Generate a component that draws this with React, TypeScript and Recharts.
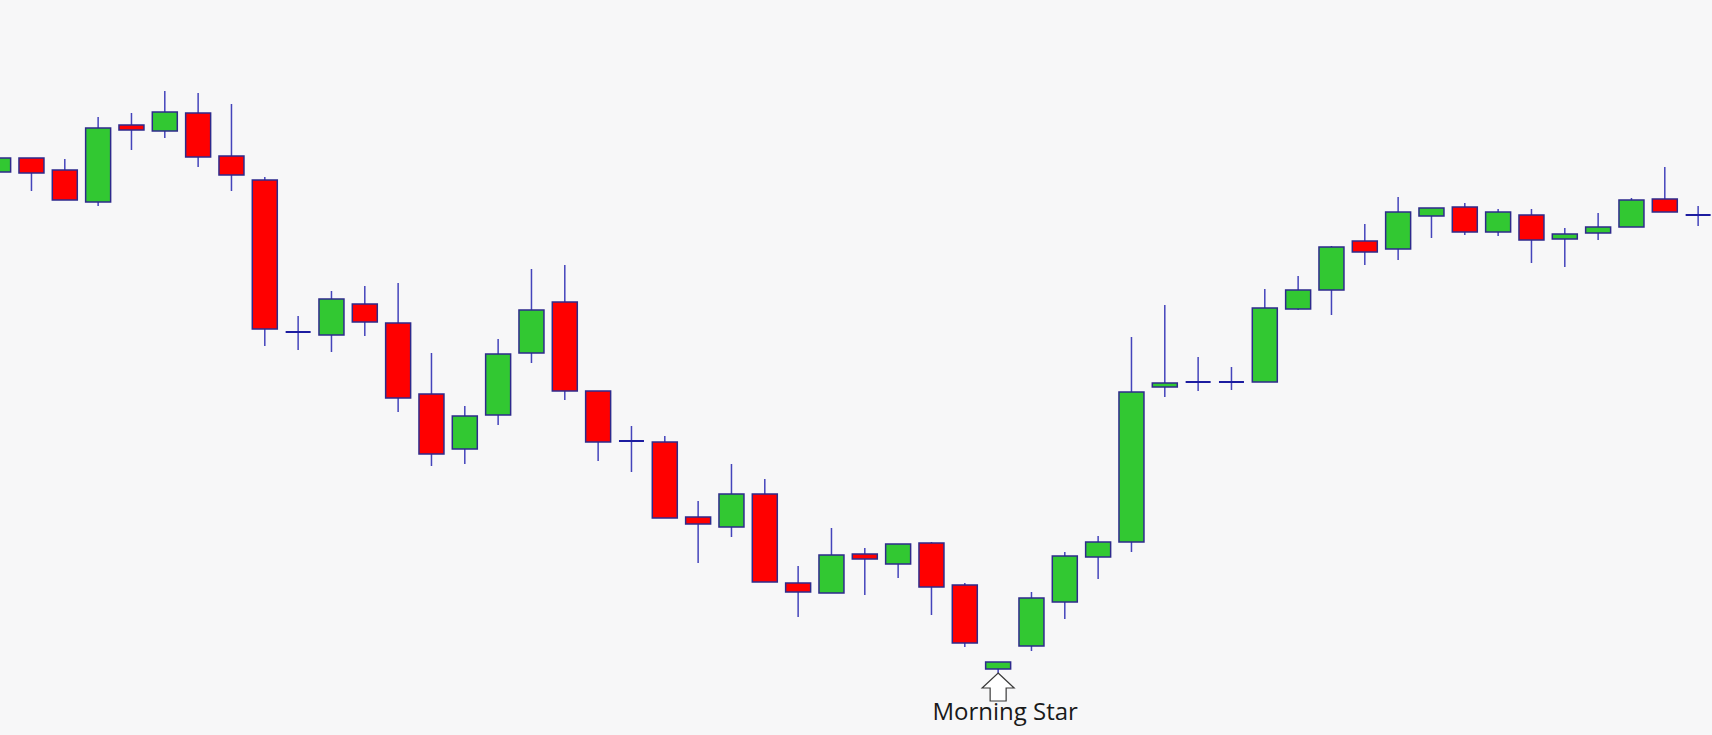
import React from "react";
import { Bar, BarChart, XAxis, YAxis } from "recharts";

// price readings per candle, left to right
const opens = [
  56.3, 57.7, 56.5, 53.3, 61.0, 60.4, 62.2, 57.9, 55.5, 40.3,
  40.0, 43.1, 41.2, 34.1, 28.6, 32.0, 38.2, 43.3, 34.4, 29.4,
  29.3, 21.8, 20.8, 24.1, 15.2, 14.2, 18.1, 17.1, 19.2, 15.0,
  6.6, 8.9, 13.3, 17.8, 19.3, 34.8, 35.3, 35.3, 35.3, 42.6,
  44.5, 49.4, 48.6, 51.9, 52.8, 50.3, 52.0, 49.6, 50.2, 50.8,
  53.6, 52.0,
];
const highs = [
  57.7, 57.7, 57.6, 61.8, 62.2, 64.4, 64.2, 63.1, 55.8, 41.9,
  44.4, 44.9, 45.2, 38.2, 32.9, 39.6, 46.6, 47.0, 34.4, 30.9,
  29.9, 23.4, 27.1, 25.6, 16.9, 20.7, 18.7, 19.1, 19.3, 15.2,
  7.3, 14.3, 18.3, 19.9, 39.8, 43.0, 37.8, 36.8, 44.6, 45.9,
  48.9, 51.1, 53.8, 52.7, 53.2, 52.6, 52.6, 50.7, 52.2, 53.7,
  56.8, 52.9,
];
const lows = [
  56.3, 54.4, 53.5, 52.9, 58.5, 59.7, 56.8, 54.4, 38.9, 38.5,
  38.3, 39.9, 32.3, 26.9, 27.1, 31.0, 37.2, 33.5, 27.4, 26.3,
  21.7, 17.2, 19.8, 15.3, 11.8, 14.2, 14.0, 15.7, 12.0, 8.8,
  6.2, 8.4, 11.6, 15.6, 18.3, 33.8, 34.4, 34.5, 35.3, 42.5,
  42.0, 47.0, 47.5, 49.7, 50.0, 49.9, 47.2, 46.8, 49.5, 50.8,
  52.3, 50.9,
];
const closes = [
  57.7, 56.2, 53.5, 60.7, 60.5, 62.3, 57.8, 56.0, 40.6, 40.3,
  43.6, 41.3, 33.7, 28.1, 31.9, 38.1, 42.5, 34.4, 29.3, 29.4,
  21.7, 21.1, 24.1, 15.3, 14.3, 18.0, 17.6, 19.1, 14.8, 9.2,
  7.3, 13.7, 17.9, 19.3, 34.3, 35.2, 35.3, 35.3, 42.7, 44.5,
  48.8, 48.3, 52.3, 52.7, 50.3, 52.3, 49.5, 50.1, 50.8, 53.5,
  52.3, 52.0,
];
const notes: Record<number, string> = { 30: "Morning Star" };

const candles = opens.map((open, i) => ({
  i,
  open,
  high: highs[i],
  low: lows[i],
  close: closes[i],
  range: [lows[i], highs[i]],
  note: notes[i],
}));

const UP = "#32c832";
const DOWN = "#ff0000";
const EDGE = "#2e2a8c";
const WICK = "#4444bb";

function Candle(props: any) {
  const { x, y, width, height, payload } = props;
  const { open, close, high, low, note } = payload;
  const perUnit = height / (high - low);
  const toY = (v: number) => y + (high - v) * perUnit;
  const cx = x + width / 2;
  const top = toY(Math.max(open, close));
  const bottom = toY(Math.min(open, close));
  const yLow = y + height;

  return (
    <g>
      <line x1={cx} x2={cx} y1={y} y2={yLow} stroke={WICK} strokeWidth={1.5} />
      {open === close ? (
        <line x1={x} x2={x + width} y1={top} y2={top} stroke="#1c1ca0" strokeWidth={2} />
      ) : (
        <rect
          x={x}
          y={top}
          width={width}
          height={Math.max(bottom - top, 1)}
          fill={close > open ? UP : DOWN}
          stroke={EDGE}
          strokeWidth={1.5}
        />
      )}
      {note && (
        <g>
          <polygon
            points={`${cx},${yLow} ${cx + 16},${yLow + 15} ${cx + 8},${yLow + 15} ${cx + 8},${yLow + 28} ${cx - 8},${yLow + 28} ${cx - 8},${yLow + 15} ${cx - 16},${yLow + 15}`}
            fill="#ffffff"
            stroke="#3a3a3a"
            strokeWidth={1.2}
          />
          <text
            x={cx + 7}
            y={yLow + 47}
            textAnchor="middle"
            fontFamily="'Open Sans', sans-serif"
            fontSize={24}
            fill="#1a1a1a"
          >
            {note}
          </text>
        </g>
      )}
    </g>
  );
}

export default function App() {
  return (
    <div style={{ position: "absolute", left: 0, top: 0, width: 1712, height: 735, background: "#f7f7f8" }}>
      <BarChart width={1712} height={735} data={candles} margin={{ top: 0, right: 0, bottom: 0, left: 0 }}>
        <XAxis dataKey="i" type="number" domain={[0.051, 51.411]} allowDataOverflow hide />
        <YAxis type="number" domain={[0, 73.5]} allowDataOverflow hide />
        <Bar dataKey="range" barSize={25} shape={<Candle />} isAnimationActive={false} />
      </BarChart>
    </div>
  );
}
